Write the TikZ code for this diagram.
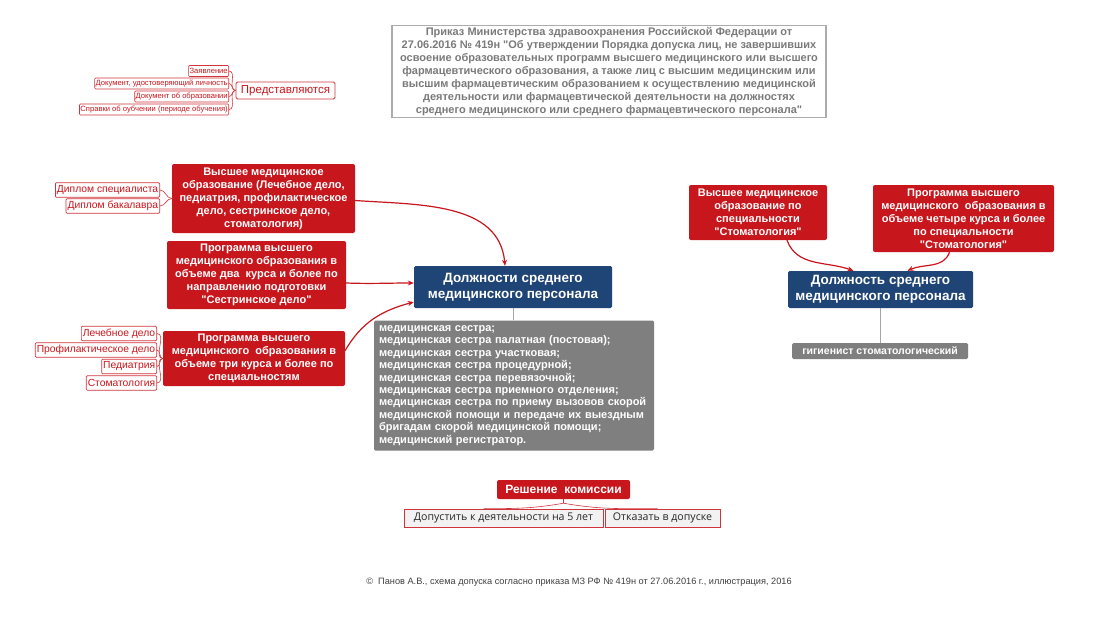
\documentclass[tikz,border=0pt]{standalone}
\usepackage{fontspec}
\setmainfont{Liberation Sans}[Ligatures=TeXOff]
\newfontfamily\opensans{Open Sans}[Ligatures=TeXOff]
\usetikzlibrary{calc,arrows.meta}
\definecolor{xred}{HTML}{C8161D}
\definecolor{xredline}{HTML}{D0343A}
\definecolor{xblue}{HTML}{1F4476}
\definecolor{xgray}{HTML}{7F7F7F}
\definecolor{titlegray}{HTML}{7A7A7A}
\definecolor{lightbox}{HTML}{F2F2F2}
\begin{document}
\begin{tikzpicture}[x=1pt,y=-1pt,
  redbox/.style={fill=xred, text=white, font=\bfseries\fontsize{11}{13}\selectfont, align=center, rounded corners=2pt, inner sep=2pt},
  bluebox/.style={fill=xblue, text=white, font=\bfseries\fontsize{13.5}{16}\selectfont, align=center, rounded corners=1.5pt, inner sep=2pt},
  graybox/.style={fill=xgray, text=white, font=\bfseries\fontsize{10.5}{12.6}\selectfont, rounded corners=1.5pt, inner sep=2pt},
  itembox/.style={draw=xredline, fill=white, text=xred, line width=0.7pt, rounded corners=1pt, inner sep=1.5pt, font=\fontsize{10.3}{12}\selectfont, minimum height=14.5},
  tinybox/.style={draw=xredline, fill=white, text=xred, line width=0.6pt, rounded corners=1pt, inner sep=1pt, font=\fontsize{7.6}{8.5}\selectfont, minimum height=11},
  optbox/.style={draw=xredline, fill=lightbox, text=black!85, line width=0.7pt, inner sep=2pt, font=\opensans\fontsize{10.6}{12}\selectfont, minimum height=18},
  arr/.style={draw=xred, line width=1.2pt, -{Stealth[length=6pt,width=5pt]}},
  thin/.style={draw=xredline, line width=0.6pt},
  stem/.style={draw=gray!70, line width=1pt}
]
\useasboundingbox (0,0) rectangle (1100,619);
\fill[white] (0,0) rectangle (1100,619);

% title
\node[draw=gray!65, line width=1.2pt, text=titlegray, font=\bfseries\fontsize{11}{13}\selectfont, align=center, minimum width=434, minimum height=92, inner sep=1pt] (title) at (609,71.5)
{Приказ Министерства здравоохранения Российской Федерации от\\
27.06.2016 № 419н "Об утверждении Порядка допуска лиц, не завершивших\\
освоение образовательных программ высшего медицинского или высшего\\
фармацевтического образования, а также лиц с высшим медицинским или\\
высшим фармацевтическим образованием к осуществлению медицинской\\
деятельности или фармацевтической деятельности на должностях\\
среднего медицинского или среднего фармацевтического персонала"};

% Представляются
\node[draw=xredline, fill=white, text=xred, line width=0.9pt, rounded corners=1.5pt, font=\fontsize{11.5}{13}\selectfont, minimum width=99, minimum height=17, inner sep=1pt] (pred) at (285.5,90.5) {Представляются};
\node[tinybox, anchor=east] (p1) at (229,71) {Заявление};
\node[tinybox, anchor=east] (p2) at (229,83.5) {Документ, удостоверяющий личность};
\node[tinybox, anchor=east] (p3) at (229,96.5) {Документ об образовании};
\node[tinybox, anchor=east] (p4) at (229,109.5) {Справки об оубчении (периоде обучения)};
\foreach \i in {p1,p2,p3,p4}{\draw[thin] (\i.east) to[out=0,in=180] (pred.west);}

% left red boxes
\node[redbox, minimum width=183, minimum height=69] (vysh) at (263.5,198.5)
{Высшее медицинское\\образование (Лечебное дело,\\педиатрия, профилактическое\\дело, сестринское дело,\\стоматология)};
\node[itembox, anchor=east] (d1) at (160,190) {Диплом специалиста};
\node[itembox, anchor=east] (d2) at (160,206) {Диплом бакалавра};
\foreach \i in {d1,d2}{\draw[thin] (\i.east) to[out=0,in=180] (vysh.west);}

\node[redbox, minimum width=179, minimum height=68] (dva) at (256.5,275)
{Программа высшего\\медицинского образования в\\объеме два\ \ курса и более по\\направлению подготовки\\"Сестринское дело"};

\node[redbox, minimum width=182, minimum height=55] (tri) at (254,358.5)
{Программа высшего\\медицинского\ \ образования в\\объеме три курса и более по\\специальностям};
\node[itembox, anchor=east] (t1) at (157,333.5) {Лечебное дело};
\node[itembox, anchor=east] (t2) at (157,350) {Профилактическое дело};
\node[itembox, anchor=east] (t3) at (157,366.5) {Педиатрия};
\node[itembox, anchor=east] (t4) at (157,383) {Стоматология};
\foreach \i in {t1,t2,t3,t4}{\draw[thin] (\i.east) to[out=0,in=180] (tri.west);}

% central blue + list
\node[bluebox, minimum width=198, minimum height=42] (blue1) at (513,287)
{Должности среднего\\медицинского персонала};
\node[graybox, font=\bfseries\fontsize{11}{12.4}\selectfont, align=left, text width=270, minimum height=130, inner xsep=5pt] (list) at (514,385.5)
{медицинская сестра;\\
медицинская сестра палатная (постовая);\\
медицинская сестра участковая;\\
медицинская сестра процедурной;\\
медицинская сестра перевязочной;\\
медицинская сестра приемного отделения;\\
медицинская сестра по приему вызовов скорой\\
медицинской помощи и передаче их выездным\\
бригадам скорой медицинской помощи;\\
медицинский регистратор.};
\draw[stem] (blue1.south) -- (blue1.south |- list.north);

\draw[arr] ($(vysh.east)+(0,2)$) to[out=-4,in=95] ($(blue1.north)+(-8,0)$);
\draw[arr] ($(dva.east)+(0,8)$) to[out=-2,in=180] ($(blue1.west)+(0,-4)$);
\draw[arr] ($(tri.east)+(0,-8)$) to[out=60,in=195] ($(blue1.west)+(0,15)$);

% right side
\node[redbox, minimum width=138, minimum height=55] (r1) at (758,212.5)
{Высшее медицинское\\образование по\\специальности\\"Стоматология"};
\node[redbox, minimum width=181, minimum height=67] (r2) at (963.5,218.5)
{Программа высшего\\медицинского\ \ образования в\\объеме четыре курса и более\\по специальности\\"Стоматология"};
\node[bluebox, minimum width=185, minimum height=37] (blue2) at (880.5,289.5)
{Должность среднего\\медицинского персонала};
\node[graybox, minimum width=176, minimum height=16, inner sep=1pt] (gig) at (880,351) {гигиенист стоматологический};
\draw[stem] (gig.north) -- (gig.north |- blue2.south);
\draw[arr] ($(r1.south)+(29,0)$) to[out=-70,in=160] ($(blue2.north)+(-27,0)$);
\draw[arr] ($(r2.south)+(-14,0)$) to[out=-110,in=25] ($(blue2.north)+(27,0)$);

% decision
\node[redbox, font=\bfseries\fontsize{12}{13}\selectfont, minimum width=133, minimum height=19] (resh) at (563.5,489.5) {Решение\ \ комиссии};
\node[optbox, minimum width=199] (dop) at (503.5,518) {Допустить к деятельности на 5 лет};
\node[optbox, minimum width=115] (otk) at (662.5,518) {Отказать в допуске};
\coordinate (rj) at ($(resh.south)+(0,4)$);
\draw[thin] (resh.south) -- (rj);
\draw[thin] (rj) to[out=190,in=0] ($(dop.north)+(-20,0)$);
\draw[thin] (rj) to[out=-10,in=180] ($(otk.north)+(-5,0)$);

% footer
\node[text=black!75, font=\fontsize{9.2}{10}\selectfont, inner sep=0] (foot) at (579,582)
{©\ \ Панов А.В., схема допуска согласно приказа МЗ РФ № 419н от 27.06.2016 г., иллюстрация, 2016};
\end{tikzpicture}
\end{document}
